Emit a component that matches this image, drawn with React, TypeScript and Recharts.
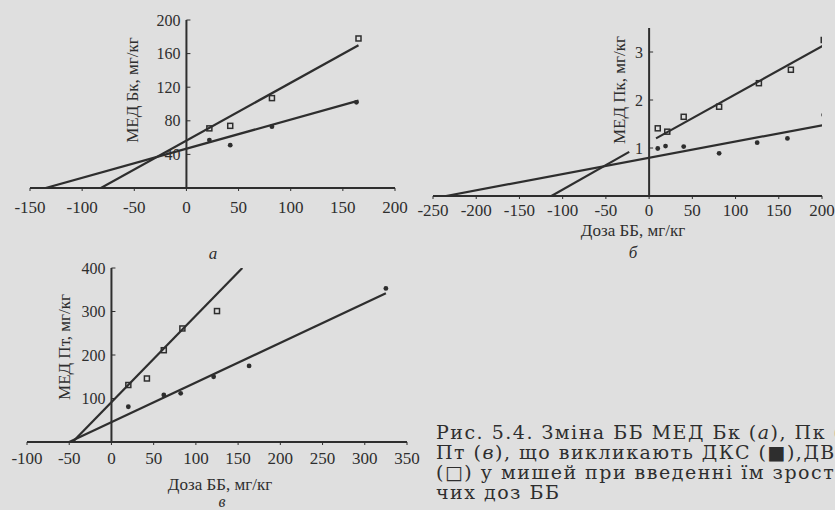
import { ComposedChart, Scatter, XAxis, YAxis, ReferenceLine, ReferenceDot } from 'recharts'

const INK = '#2e2e2e'
const PAPER = '#dfdfdf'
const SERIF = "'Liberation Serif', 'DejaVu Serif', serif"
const WIDE_SERIF = "'DejaVu Serif', 'Liberation Serif', serif"

// panel а — МЕД Бк
const xTicksA = [-150, -100, -50, 0, 50, 100, 150, 200]
const yTicksA = [40, 80, 120, 160, 200]
const openDoseA = [22, 42, 82, 165]
const openMedA = [71, 74, 107, 178]
const fillDoseA = [22, 42, 82, 163]
const fillMedA = [57, 51, 73, 102]
const fitOpenDoseA = [-82, 165]
const fitOpenMedA = [0, 170]
const fitFillDoseA = [-135, 165]
const fitFillMedA = [0, 104]

// panel б — МЕД Пк
const xTicksB = [-250, -200, -150, -100, -50, 0, 50, 100, 150, 200]
const yTicksB = [1, 2, 3]
const openDoseB = [10, 21, 40, 81, 127, 164, 202]
const openMedB = [1.41, 1.34, 1.65, 1.86, 2.35, 2.63, 3.25]
const fillDoseB = [10, 19, 40, 81, 125, 160, 202]
const fillMedB = [0.99, 1.04, 1.03, 0.89, 1.11, 1.2, 1.69]
const fitOpenDoseB1 = [-113, -23]
const fitOpenMedB1 = [0, 0.92]
const fitOpenDoseB2 = [8, 202]
const fitOpenMedB2 = [1.2, 3.14]
const fitFillDoseB = [-235, 202]
const fitFillMedB = [0, 1.48]

// panel в — МЕД Пт
const xTicksC = [-100, -50, 0, 50, 100, 150, 200, 250, 300, 350]
const yTicksC = [100, 200, 300, 400]
const openDoseC = [20, 42, 62, 84, 125]
const openMedC = [131, 146, 211, 261, 301]
const fillDoseC = [20, 62, 82, 121, 163, 325]
const fillMedC = [81, 108, 112, 150, 175, 353]
const fitOpenDoseC = [-46, 155]
const fitOpenMedC = [0, 400]
const fitFillDoseC = [-50, 325]
const fitFillMedC = [0, 342]

const zip = (xs: number[], ys: number[]) => xs.map((x, i) => ({ x, y: ys[i] }))

const openSquare = (p: any) => (
  <rect x={p.cx - 2.5} y={p.cy - 2.5} width={5} height={5} fill="none" stroke={INK} strokeWidth={1.5} />
)
const filledDot = (p: any) => <circle cx={p.cx} cy={p.cy} r={2.4} fill={INK} />
const noMark = () => <g />
const yTickMark = (p: any) => <line x1={p.cx} x2={p.cx + 4} y1={p.cy} y2={p.cy} stroke={INK} strokeWidth={1} />

interface PanelProps {
  left: number
  top: number
  width: number
  height: number
  margin: { top: number; right: number; bottom: number; left: number }
  tickGap: number
  xDomain: [number, number]
  xTicks: number[]
  yDomain: [number, number]
  yTicks: number[]
  open: { x: number; y: number }[]
  filled: { x: number; y: number }[]
  fits: { x: number; y: number }[][]
}

function Panel({ left, top, width, height, margin, tickGap, xDomain, xTicks, yDomain, yTicks, open, filled, fits }: PanelProps) {
  return (
    <div style={{ position: 'absolute', left, top }}>
      <ComposedChart width={width} height={height} margin={margin}>
        <XAxis
          type="number"
          dataKey="x"
          domain={xDomain}
          ticks={xTicks}
          interval={0}
          allowDataOverflow
          height={20}
          axisLine={{ stroke: INK, strokeWidth: 2 }}
          tickLine={{ stroke: INK }}
          tickSize={3}
          tickMargin={tickGap}
          tick={{ fill: INK, fontSize: 17, fontFamily: SERIF }}
        />
        <YAxis hide type="number" dataKey="y" domain={yDomain} allowDataOverflow />
        <ReferenceLine x={0} stroke={INK} strokeWidth={2} />
        {yTicks.map(v => (
          <ReferenceDot
            key={v}
            x={0}
            y={v}
            r={0}
            shape={yTickMark}
            label={{ value: String(v), position: 'left', offset: 6, fill: INK, fontSize: 16, fontFamily: SERIF }}
          />
        ))}
        {fits.map((f, i) => (
          <Scatter key={i} data={f} line={{ stroke: INK, strokeWidth: 2.2 }} shape={noMark} isAnimationActive={false} />
        ))}
        <Scatter data={open} shape={openSquare} isAnimationActive={false} />
        <Scatter data={filled} shape={filledDot} isAnimationActive={false} />
      </ComposedChart>
    </div>
  )
}

const textStyle = { position: 'absolute' as const, color: INK, fontFamily: SERIF, whiteSpace: 'nowrap' as const }

function VTitle({ cx, cy, text }: { cx: number; cy: number; text: string }) {
  return (
    <div style={{ ...textStyle, left: cx, top: cy, fontSize: 17, transform: 'translate(-50%, -50%) rotate(-90deg)' }}>{text}</div>
  )
}

function HText({ cx, cy, text, italic = false, size = 17 }: { cx: number; cy: number; text: string; italic?: boolean; size?: number }) {
  return (
    <div
      style={{
        ...textStyle,
        left: cx,
        top: cy,
        fontSize: size,
        lineHeight: `${size - 2}px`,
        fontStyle: italic ? 'italic' : 'normal',
        transform: 'translate(-50%, -50%)',
      }}
    >
      {text}
    </div>
  )
}

export default function App() {
  return (
    <div style={{ position: 'fixed', left: 0, top: 0, width: 835, height: 510, overflow: 'hidden', background: PAPER, fontFamily: SERIF }}>
      <Panel
        left={0}
        top={0}
        width={420}
        height={260}
        margin={{ top: 20, right: 25, bottom: 52, left: 30 }}
        tickGap={10}
        xDomain={[-150, 200]}
        xTicks={xTicksA}
        yDomain={[0, 200]}
        yTicks={yTicksA}
        open={zip(openDoseA, openMedA)}
        filled={zip(fillDoseA, fillMedA)}
        fits={[zip(fitOpenDoseA, fitOpenMedA), zip(fitFillDoseA, fitFillMedA)]}
      />
      <Panel
        left={400}
        top={0}
        width={435}
        height={270}
        margin={{ top: 28, right: 13, bottom: 54, left: 33 }}
        tickGap={5}
        xDomain={[-250, 200]}
        xTicks={xTicksB}
        yDomain={[0, 3.5]}
        yTicks={yTicksB}
        open={zip(openDoseB, openMedB)}
        filled={zip(fillDoseB, fillMedB)}
        fits={[zip(fitOpenDoseB1, fitOpenMedB1), zip(fitOpenDoseB2, fitOpenMedB2), zip(fitFillDoseB, fitFillMedB)]}
      />
      <Panel
        left={0}
        top={250}
        width={420}
        height={260}
        margin={{ top: 18, right: 13, bottom: 48, left: 27 }}
        tickGap={7}
        xDomain={[-100, 350]}
        xTicks={xTicksC}
        yDomain={[0, 400]}
        yTicks={yTicksC}
        open={zip(openDoseC, openMedC)}
        filled={zip(fillDoseC, fillMedC)}
        fits={[zip(fitOpenDoseC, fitOpenMedC), zip(fitFillDoseC, fitFillMedC)]}
      />

      <VTitle cx={133} cy={90} text="МЕД Бк, мг/кг" />
      <HText cx={213} cy={253} text="а" italic />

      <VTitle cx={620} cy={90} text="МЕД Пк, мг/кг" />
      <HText cx={633} cy={230} text="Доза ББ, мг/кг" />
      <HText cx={633} cy={252} text="б" italic />

      <VTitle cx={65} cy={347} text="МЕД Пт, мг/кг" />
      <HText cx={220} cy={484} text="Доза ББ, мг/кг" />
      <HText cx={222} cy={502} text="в" italic size={16} />

      <div style={{ ...textStyle, left: 436, top: 422, fontFamily: WIDE_SERIF, fontSize: 19, lineHeight: '20px', letterSpacing: 1.5 }}>
        <div>Рис. 5.4. Зміна ББ МЕД Бк (<i>а</i>), Пк (<i>б</i>),</div>
        <div>Пт (<i>в</i>), що викликають ДКС (■),ДВС</div>
        <div>(□) у мишей при введенні їм зростаю-</div>
        <div>чих доз ББ</div>
      </div>
    </div>
  )
}
